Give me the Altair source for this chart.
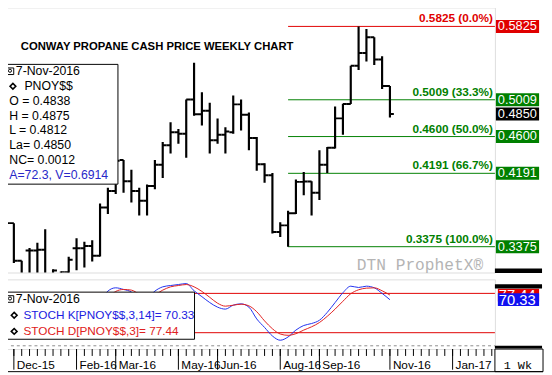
import altair as alt
import pandas as pd

FONT = "Liberation Sans"

# ---------------- data (weekly bars, oldest first; week 0 = 30-Nov-2015, week 49 = 7-Nov-2016)
opens  = [0.3754, 0.3637, 0.3219, 0.3332, 0.3332, 0.3340, 0.3060, 0.3000, 0.3092, 0.3358,
          0.3358, 0.3383, 0.3274, 0.3812, 0.3994, 0.4340, 0.4103, 0.3994, 0.3885, 0.4049,
          0.4286, 0.4504, 0.4649, 0.4631, 0.5013, 0.4849, 0.4886, 0.4559, 0.4620, 0.4649,
          0.4958, 0.4843, 0.4584, 0.4292, 0.4169, 0.3539, 0.3612, 0.3746, 0.4096, 0.4100,
          0.3976, 0.4286, 0.4475, 0.4802, 0.4962, 0.5388, 0.5530, 0.5705, 0.5457, 0.5162]
highs  = [0.3798, 0.3637, 0.3219, 0.3361, 0.3419, 0.3568, 0.3125, 0.3100, 0.3263, 0.3470,
          0.3430, 0.3448, 0.3856, 0.4030, 0.4344, 0.4340, 0.4231, 0.4030, 0.4067, 0.4340,
          0.4540, 0.4758, 0.4685, 0.5013, 0.5421, 0.5094, 0.4977, 0.4802, 0.4704, 0.5056,
          0.5013, 0.4868, 0.4595, 0.4303, 0.4194, 0.3648, 0.3776, 0.4122, 0.4205, 0.4103,
          0.4449, 0.4485, 0.4933, 0.4966, 0.5388, 0.5825, 0.5796, 0.5705, 0.5493, 0.5162]
lows   = [0.3634, 0.3194, 0.2950, 0.3000, 0.3000, 0.3050, 0.2980, 0.2950, 0.3050, 0.3113,
          0.3143, 0.3211, 0.3266, 0.3740, 0.3961, 0.3976, 0.3867, 0.3721, 0.3721, 0.4013,
          0.4139, 0.4412, 0.4521, 0.4365, 0.4832, 0.4722, 0.4412, 0.4521, 0.4412, 0.4631,
          0.4668, 0.4449, 0.4220, 0.4085, 0.3521, 0.3484, 0.3375, 0.3740, 0.3947, 0.3721,
          0.3893, 0.4194, 0.4467, 0.4620, 0.4962, 0.5340, 0.5434, 0.5395, 0.5130, 0.4812]
closes = [0.3637, 0.3219, 0.3020, 0.3332, 0.3340, 0.3050, 0.3110, 0.3092, 0.3230, 0.3358,
          0.3383, 0.3274, 0.3812, 0.3994, 0.4330, 0.4103, 0.3994, 0.3885, 0.4049, 0.4286,
          0.4504, 0.4649, 0.4631, 0.5013, 0.4849, 0.4886, 0.4559, 0.4620, 0.4657, 0.4958,
          0.4843, 0.4584, 0.4292, 0.4169, 0.3539, 0.3612, 0.3746, 0.4096, 0.4100, 0.3976,
          0.4286, 0.4475, 0.4802, 0.4962, 0.5388, 0.5530, 0.5705, 0.5457, 0.5162, 0.4850]
stoch_k = [45, 30, 18, 22, 28, 35, 30, 25, 35, 50,
           55, 52, 68, 83.5, 88.5, 86, 82, 68, 72, 83.5,
           90, 92, 93.5, 95, 84, 75, 66, 59, 56, 62,
           64, 59, 41, 28, 15, 8.5, 13.5, 24, 31, 34,
           39, 51, 66, 81, 91, 89, 91, 88.5, 80, 70.33]
stoch_d = [50, 42, 31, 23, 23, 28, 31, 30, 30, 37,
           47, 52, 58, 72, 83, 86, 85, 79, 74, 78,
           85, 90, 92, 93.5, 90, 83, 74, 65, 60.5, 62,
           63.5, 61, 52, 38, 26, 18, 16, 18.5, 24, 29,
           35.5, 45, 56, 68, 79.5, 85.5, 88, 88.5, 84, 77.44]

fib_prices = [0.5825, 0.5009, 0.4600, 0.4191, 0.3375]
fib_labels = ["0.5825 (0.0%)", "0.5009 (33.3%)", "0.4600 (50.0%)", "0.4191 (66.7%)", "0.3375 (100.0%)"]
fib_kind = ["high", "retr", "retr", "retr", "low"]
swing_low_week = 36
last_price = 0.4850
last_k, last_d = 70.33, 77.44

price_ticks = [0.32, 0.34, 0.36, 0.38, 0.40, 0.42, 0.44, 0.46, 0.48, 0.50, 0.52, 0.54, 0.56, 0.58]
stoch_ticks = [10, 40, 70]
month_labels = ["Dec-15", "Feb-16", "Mar-16", "May-16", "Jun-16", "Aug-16", "Sep-16", "Nov-16", "Jan-17"]
month_weeks = [1, 9, 14, 22, 27, 35, 40, 49, 57]
all_weeks = list(range(0, 63))

# ---------------- scales / sizes
W, H1, H2 = 499, 270, 71
xs = alt.Scale(domain=[-0.125, 62.4], nice=False, zero=False)
ys = alt.Scale(domain=[0.3088, 0.6036], nice=False, zero=False)
ss = alt.Scale(domain=[-5.0, 101.4], nice=False, zero=False)

RED, GREEN, BLUE = "#e00000", "#008000", "#1c1cf0"
BOXPATH = "M-1,-0.3H1V0.3H-1Z"
one = alt.Data(values=[{"a": 1}])


def txt(s, x, y, size=12, color="black", align="left", weight="normal", font=FONT):
    return alt.Chart(one).mark_text(text=s, align=align, baseline="middle", fontSize=size,
                                    color=color, font=font, fontWeight=weight).encode(
        x=alt.value(x), y=alt.value(y))


def rect(x1, x2, y1, y2, fill, stroke=None):
    kw = dict(fill=fill, strokeWidth=1)
    if stroke:
        kw["stroke"] = stroke
    return alt.Chart(one).mark_rect(**kw).encode(
        x=alt.value(x1), x2=alt.value(x2), y=alt.value(y1), y2=alt.value(y2))


def pt(x, y, shape, size, filled=False, color="black", sw=1.3):
    return alt.Chart(one).mark_point(shape=shape, size=size, filled=filled, color=color,
                                     strokeWidth=sw, opacity=1).encode(x=alt.value(x), y=alt.value(y))


# ---------------- main price panel
bars = pd.DataFrame({"week": list(range(len(opens))), "open": opens, "high": highs,
                     "low": lows, "close": closes})
bb = alt.Chart(bars)
yaxis = alt.Axis(orient="right", values=price_ticks, format=".4f", labelFontSize=13,
                 labelFont=FONT, labelColor="black", tickSize=3, tickColor="black",
                 domainColor="black", labelPadding=2, grid=False, title=None)
vert = bb.mark_rule(color="black", strokeWidth=2.2, clip=True).encode(
    x=alt.X("week:Q", scale=xs, axis=None),
    y=alt.Y("low:Q", scale=ys, axis=yaxis), y2="high:Q")
otick = bb.transform_calculate(w0="datum.week - 0.5").mark_rule(
    color="black", strokeWidth=2, clip=True).encode(
    x=alt.X("w0:Q", scale=xs, axis=None), x2="week:Q",
    y=alt.Y("open:Q", scale=ys, axis=None))
ctick = bb.transform_calculate(w1="datum.week + 0.5").mark_rule(
    color="black", strokeWidth=2, clip=True).encode(
    x=alt.X("week:Q", scale=xs, axis=None), x2="w1:Q",
    y=alt.Y("close:Q", scale=ys, axis=None))

fib = pd.DataFrame({"price": fib_prices, "label": fib_labels, "kind": fib_kind,
                    "start": [swing_low_week] * len(fib_prices)})
kinds = ["high", "retr", "low"]
fb = alt.Chart(fib)
fib_lines = fb.mark_rule(strokeWidth=1).encode(
    x=alt.X("start:Q", scale=xs, axis=None), x2=alt.value(W),
    y=alt.Y("price:Q", scale=ys, axis=None),
    color=alt.Color("kind:N", scale=alt.Scale(domain=kinds, range=[RED, GREEN, GREEN]), legend=None))
fib_text = fb.mark_text(align="right", baseline="middle", fontSize=12, font=FONT, dy=-8,
                        fontWeight="bold").encode(
    x=alt.value(W - 2), y=alt.Y("price:Q", scale=ys, axis=None), text="label:N",
    color=alt.Color("kind:N", scale=alt.Scale(domain=kinds,
                                              range=["#d01c1c", "#2f8f2f", "#2f8f2f"]), legend=None))
fib_box = fb.mark_point(shape=BOXPATH, size=44 * 44, filled=True, opacity=1).encode(
    x=alt.value(522), y=alt.Y("price:Q", scale=ys, axis=None),
    color=alt.Color("kind:N", scale=alt.Scale(domain=kinds, range=[RED, GREEN, GREEN]), legend=None))
fib_box_t = fb.mark_text(align="left", baseline="middle", fontSize=13, font=FONT, color="white").encode(
    x=alt.value(502), y=alt.Y("price:Q", scale=ys, axis=None),
    text=alt.Text("price:Q", format=".4f"))
lastdf = pd.DataFrame({"price": [last_price]})
last_box = alt.Chart(lastdf).mark_point(shape=BOXPATH, size=44 * 44, filled=True, color="black",
                                        opacity=1).encode(
    x=alt.value(522), y=alt.Y("price:Q", scale=ys, axis=None))
last_t = alt.Chart(lastdf).mark_text(align="left", baseline="middle", fontSize=13, font=FONT,
                                     color="white").encode(
    x=alt.value(502), y=alt.Y("price:Q", scale=ys, axis=None),
    text=alt.Text("price:Q", format=".4f"))

main_layers = [
    fib_lines, fib_text, vert, otick, ctick,
    txt("CONWAY PROPANE CASH PRICE WEEKLY CHART", 16, 40, size=11.5, weight="bold"),
    txt("DTN ProphetX®", 487, 262, size=16.5, color="#b4b4b4", align="right", font="Liberation Mono"),
    rect(0, 115, 58, 180, "white", "black"),
    pt(5.5, 65, "square", 45, sw=1), pt(5, 64.5, "circle", 10, sw=1),
    txt("7-Nov-2016", 11, 65.3, size=12.5),
    pt(8, 80.3, "diamond", 34, sw=1.6),
    txt("PNOY$$", 19.7, 80.3, size=12.5),
    txt("O = 0.4838", 4.3, 95.3, size=12.5),
    txt("H = 0.4875", 4.3, 110.3, size=12.5),
    txt("L = 0.4812", 4.3, 125.3, size=12.5),
    txt("La= 0.4850", 4.3, 140.3, size=12.5),
    txt("NC= 0.0012", 4.3, 155.3, size=12.5),
    txt("A=72.3, V=0.6914", 4.3, 170.3, size=12.5, color="#2828c8"),
    fib_box, fib_box_t, last_box, last_t,
    rect(499, 547, 266, 270.5, "black"),
]
main = alt.layer(*main_layers).properties(width=W, height=H1)

# ---------------- stochastic panel
st = pd.DataFrame({"week": list(range(len(stoch_k))), "k": stoch_k, "d": stoch_d})
sb = alt.Chart(st)
saxis = alt.Axis(orient="right", values=stoch_ticks, format=".2f", labelFontSize=15,
                 labelFont=FONT, labelColor="black", tickSize=3, tickColor="black",
                 domainColor="black", labelPadding=2, grid=False, title=None)
lvl = pd.DataFrame({"v": [80, 20]})
lvl_rules = alt.Chart(lvl).mark_rule(color=RED, strokeWidth=1).encode(
    x=alt.value(0), x2=alt.value(W), y=alt.Y("v:Q", scale=ss, axis=saxis))
zero_rule = alt.Chart(pd.DataFrame({"v": [0]})).mark_rule(
    color="#8c8c8c", strokeWidth=1, strokeDash=[3, 3]).encode(
    x=alt.value(0), x2=alt.value(W), y=alt.Y("v:Q", scale=ss, axis=None))
kline = sb.mark_line(color="#2030ee", strokeWidth=1, interpolate="monotone").encode(
    x=alt.X("week:Q", scale=xs, axis=None), y=alt.Y("k:Q", scale=ss, axis=None))
dline = sb.mark_line(color="#e02020", strokeWidth=1, interpolate="monotone").encode(
    x=alt.X("week:Q", scale=xs, axis=None), y=alt.Y("d:Q", scale=ss, axis=None))


def value_box(v, color):
    d = pd.DataFrame({"v": [v]})
    b = alt.Chart(d).mark_point(shape="M-1,-0.31H1V0.31H-1Z", size=42 * 42, filled=True,
                                opacity=1, color=color).encode(
        x=alt.value(523), y=alt.Y("v:Q", scale=ss, axis=None))
    t = alt.Chart(d).mark_text(align="left", baseline="middle", fontSize=15, font=FONT,
                               color="white").encode(
        x=alt.value(503), y=alt.Y("v:Q", scale=ss, axis=None),
        text=alt.Text("v:Q", format=".2f"))
    return [b, t]


wk = pd.DataFrame({"week": all_weeks})
minor = alt.Chart(wk).mark_rule(color="black", strokeWidth=1).encode(
    x=alt.X("week:Q", scale=xs, axis=None), y=alt.value(H2), y2=alt.value(H2 + 7))
mon = pd.DataFrame({"week": month_weeks, "lab": month_labels})
major = alt.Chart(mon).mark_rule(color="black", strokeWidth=1).encode(
    x=alt.X("week:Q", scale=xs, axis=None), y=alt.value(H2), y2=alt.value(H2 + 21))
mon_t = alt.Chart(mon).mark_text(align="left", baseline="middle", fontSize=12, font=FONT,
                                 dx=3, color="black").encode(
    x=alt.X("week:Q", scale=xs, axis=None), y=alt.value(H2 + 16), text="lab:N")

stoch_layers = [
    zero_rule, lvl_rules, kline, dline,
    rect(0, 193, 13, 61, "white", "black"),
    pt(5.5, 20, "square", 45, sw=1), pt(5, 19.5, "circle", 10, sw=1),
    txt("7-Nov-2016", 11, 20.3, size=12.5),
    pt(9.3, 36.5, "diamond", 34, sw=1.6),
    txt("STOCH K[PNOY$$,3,14]= 70.33", 18.8, 36.5, size=12, color="#2020e0"),
    pt(9.3, 53, "diamond", 34, sw=1.6),
    txt("STOCH D[PNOY$$,3]= 77.44", 18.8, 53, size=12, color="#e02020"),
    *value_box(last_d, RED),
    *value_box(last_k, "#1010f0"),
    rect(499, 547, 5, 9.3, "black"),
    rect(499, 547, 67.7, 70.3, "black"),
    minor, major, mon_t,
    rect(499, 548, H2, H2 + 23, "white", "black"),
    txt("1 Wk", 508, H2 + 16, size=12, font="Liberation Mono"),
    alt.Chart(one).mark_rule(color="black").encode(x=alt.value(0), x2=alt.value(548),
                                                    y=alt.value(H2 + 23)),
]
stoch = alt.layer(*stoch_layers).properties(width=W, height=H2)

chart = alt.vconcat(main, stoch, spacing=5).properties(
    padding={"left": -5, "top": -5, "right": 0, "bottom": 0}
).configure_view(stroke="black", strokeWidth=1).configure(background="white")

chart.save("out.html", embed_options={"renderer": "svg", "actions": False})
